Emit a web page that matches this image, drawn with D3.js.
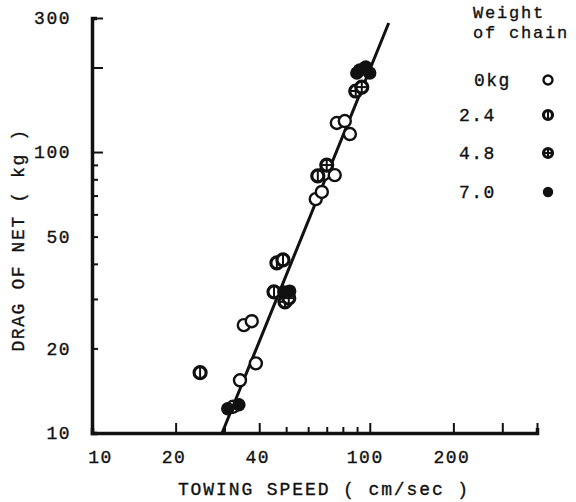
<!DOCTYPE html>
<html>
<head>
<meta charset="utf-8">
<script src="https://cdn.jsdelivr.net/npm/d3@7"></script>
<style>
  body { margin: 0; background: #fff; }
  text { font-family: "Liberation Mono", "DejaVu Sans Mono", monospace; fill: #111; stroke: #111; stroke-width: 0.35; }
</style>
</head>
<body>
<div class="chart"></div>
<script>
const FRAME_WIDTH = 576;
const FRAME_HEIGHT = 502;

// data (cm/sec, kg)
const speed0 = [32.2, 34.1, 38.9, 35.2, 37.6, 63.9, 67.2, 68.3, 74.8, 76.1, 81.3, 84.8];
const drag0 = [12.4, 15.4, 17.7, 24.2, 25.0, 68.0, 72.1, 83.5, 82.8, 126.9, 128.9, 115.9];
const speed24 = [24.5, 45.2, 46.3, 48.7, 65.0];
const drag24 = [16.4, 31.8, 40.3, 41.3, 82.2];
const speed48 = [49.5, 51.1, 70.0, 89.0, 93.6];
const drag48 = [29.3, 30.2, 89.9, 164.9, 170.3];
const speed70 = [30.8, 33.8, 49.0, 51.5, 89.8, 92.0, 96.7, 100];
const drag70 = [12.2, 12.6, 31.8, 32.0, 191, 195.8, 200.7, 191];

// fitted line end points
const lineSpeed = [29.4, 117];
const lineDrag = [10, 288];

const chainWeights = ["0kg", "2.4", "4.8", "7.0"];
const xTicks = [20, 30, 40, 50, 60, 70, 80, 90, 100, 200, 300, 400];
const xLabels = [10, 20, 40, 100, 200];
const yTicks = [20, 30, 40, 50, 60, 70, 80, 90, 100, 200, 300];
const yLabels = [10, 20, 50, 100, 300];

const FRAME = d3.select(".chart")
    .append("svg")
    .attr("width", FRAME_WIDTH)
    .attr("height", FRAME_HEIGHT);

const xScale = d3.scaleLog().domain([10, 400]).range([92, 537]);
const yScale = d3.scaleLog().domain([10, 300]).range([433, 18]);

// x axis
const xAxis = FRAME.append("g")
    .attr("transform", "translate(0,433)")
    .call(d3.axisBottom(xScale).tickValues(xTicks.concat([10])).tickSize(-5)
        .tickFormat(d => xLabels.includes(d) ? d : ""));
xAxis.select(".domain").attr("stroke-width", 3.5).attr("stroke", "#111");
xAxis.selectAll(".tick line")
    .attr("stroke-width", 2).attr("stroke", "#111")
    .attr("y2", d => (xLabels.includes(d) || d == 300 || d == 400) ? -10 : -6);
xAxis.selectAll(".tick text")
    .attr("y", 30).attr("dy", 0)
    .attr("dx", d => d == 10 ? 8 : (d == 100 ? -5 : -2))
    .attr("font-size", 18).attr("letter-spacing", 1.5)
    .attr("font-family", null);

// y axis
const yAxis = FRAME.append("g")
    .attr("transform", "translate(92,0)")
    .call(d3.axisLeft(yScale).tickValues(yTicks.concat([10])).tickSize(-5).tickPadding(21)
        .tickFormat(d => yLabels.includes(d) ? d : ""));
yAxis.select(".domain").attr("stroke-width", 3.5).attr("stroke", "#111");
yAxis.selectAll(".tick line")
    .attr("stroke-width", 2).attr("stroke", "#111")
    .attr("x2", d => (d == 100 || d == 200 || d == 300) ? 11 : 6);
yAxis.selectAll(".tick text")
    .attr("font-size", 18).attr("letter-spacing", 1.5)
    .attr("font-family", null);

// fitted line
FRAME.append("line")
    .attr("x1", xScale(lineSpeed[0])).attr("y1", yScale(lineDrag[0]))
    .attr("x2", xScale(lineSpeed[1])).attr("y2", yScale(lineDrag[1]))
    .attr("stroke", "#111").attr("stroke-width", 3);

// markers
function drawMarker(g, kind, r) {
    if (kind == 3) {
        g.append("circle").attr("r", r + 0.7).attr("fill", "#111");
        return;
    }
    g.append("circle").attr("r", r).attr("fill", "#fff")
        .attr("stroke", "#111").attr("stroke-width", kind == 0 ? 2.4 : 3.2);
    if (kind == 1) {
        g.append("line").attr("x1", 0).attr("x2", 0).attr("y1", -r + 1).attr("y2", r - 1)
            .attr("stroke", "#111").attr("stroke-width", 2);
    }
    if (kind == 2) {
        g.append("line").attr("x1", -r + 1).attr("x2", r - 1).attr("y1", 0).attr("y2", 0)
            .attr("stroke", "#111").attr("stroke-width", 2);
        g.append("line").attr("x1", 0).attr("x2", 0).attr("y1", -r + 1).attr("y2", r - 1)
            .attr("stroke", "#111").attr("stroke-width", 2);
    }
}

const series = [
    {speed: speed0, drag: drag0},
    {speed: speed24, drag: drag24},
    {speed: speed48, drag: drag48},
    {speed: speed70, drag: drag70}
];

series.forEach((s, k) => {
    s.speed.forEach((v, i) => {
        const g = FRAME.append("g")
            .attr("transform", "translate(" + xScale(v) + "," + yScale(s.drag[i]) + ")");
        drawMarker(g, k, 6);
    });
});

// axis titles
FRAME.append("text")
    .attr("x", 324).attr("y", 495)
    .attr("text-anchor", "middle")
    .attr("font-size", 18).attr("letter-spacing", 1.9)
    .text("TOWING SPEED ( cm/sec )");

FRAME.append("text")
    .attr("transform", "translate(24,240) rotate(-90)")
    .attr("text-anchor", "middle")
    .attr("font-size", 18).attr("letter-spacing", 1.6)
    .text("DRAG OF NET ( kg )");

// legend
FRAME.append("text").attr("x", 473).attr("y", 18)
    .attr("font-size", 17).attr("letter-spacing", 1.8).text("Weight");
FRAME.append("text").attr("x", 473).attr("y", 38)
    .attr("font-size", 17).attr("letter-spacing", 1.8).text("of chain");

chainWeights.forEach((w, k) => {
    const cy = [80, 115, 153, 192][k];
    FRAME.append("text")
        .attr("x", k == 0 ? 474 : 459).attr("y", cy + 6)
        .attr("font-size", 18).attr("letter-spacing", 1.5)
        .text(w);
    const g = FRAME.append("g").attr("transform", "translate(548," + cy + ")");
    drawMarker(g, k, 4.5);
});
</script>
</body>
</html>
